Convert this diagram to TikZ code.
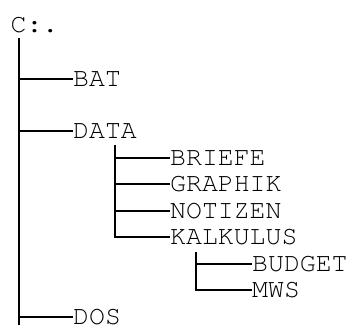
\documentclass[tikz,border=0pt]{standalone}
\usepackage[T1]{fontenc}
\usepackage{courier}
\tikzset{
  tree line/.style={line width=2pt, black},
  entry/.style={font=\ttfamily\fontsize{26.5}{26.5}\selectfont,
    inner sep=0pt, anchor=west, text height=15pt, text depth=0pt},
}
\begin{document}
\begin{tikzpicture}[x=1pt,y=1pt]
\useasboundingbox (0,0) rectangle (348,-325);
% directory entries
\node[entry] (root)    at (10.5,-25)  {C:.};
\node[entry] (bat)     at (73,-79)    {BAT};
\node[entry] (data)    at (73,-131)   {DATA};
\node[entry] (briefe)  at (170,-157.5) {BRIEFE};
\node[entry] (graphik) at (170,-184)  {GRAPHIK};
\node[entry] (notizen) at (170,-210.5) {NOTIZEN};
\node[entry] (kalk)    at (170,-237)  {KALKULUS};
\node[entry] (budget)  at (252,-264)  {BUDGET};
\node[entry] (mws)     at (252,-290)  {MWS};
\node[entry] (dos)     at (73,-316.5) {DOS};
% trunk under the root
\coordinate (trunk top) at (19,-38);
\coordinate (trunk end) at (19,-325);
\draw[tree line] (trunk top) -- (trunk end);
\foreach \n in {bat,data,dos}
  \draw[tree line] (trunk top |- \n.west) -- (\n.west);
% subtree of DATA
\coordinate (data top) at (115,-145);
\draw[tree line] (data top) |- (kalk.west);
\foreach \n in {briefe,graphik,notizen}
  \draw[tree line] (data top |- \n.west) -- (\n.west);
% subtree of KALKULUS
\coordinate (kalk top) at (196,-252);
\draw[tree line] (kalk top) |- (mws.west);
\draw[tree line] (kalk top |- budget.west) -- (budget.west);
\end{tikzpicture}
\end{document}
